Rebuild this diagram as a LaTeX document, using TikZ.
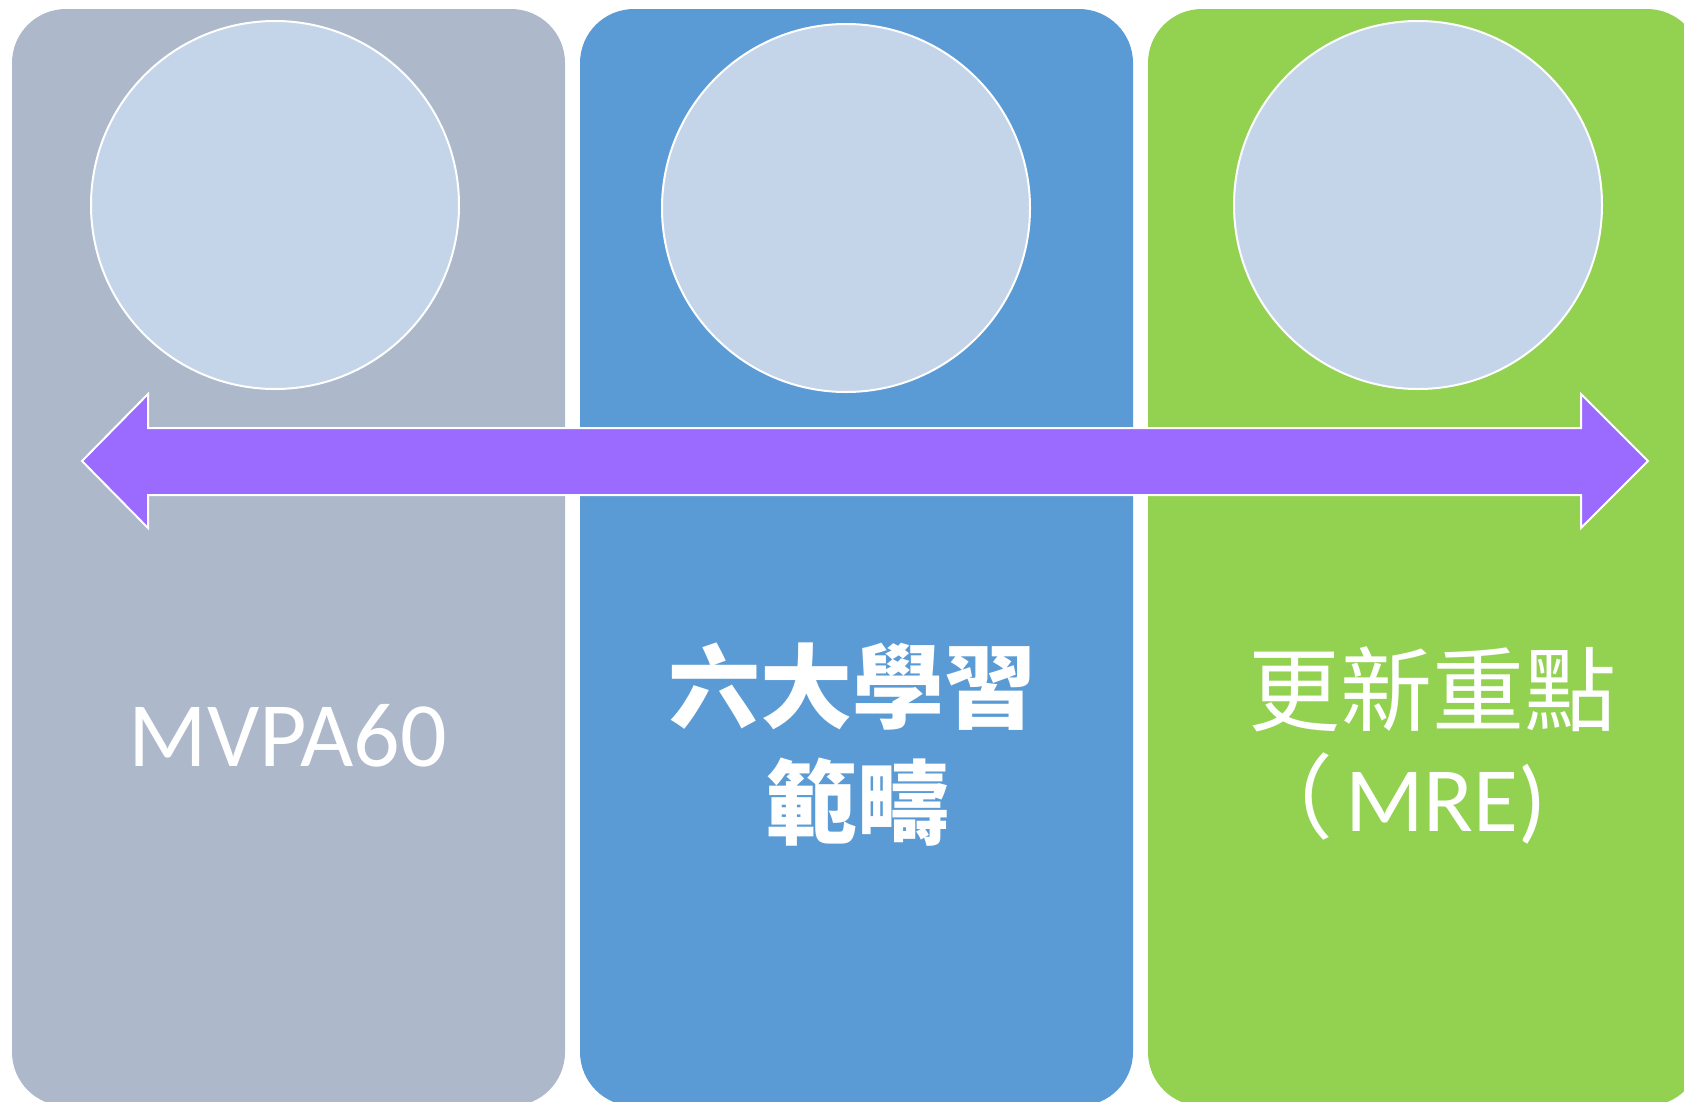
\documentclass[tikz,border=0pt]{standalone}
\usepackage{fontspec}
\setmainfont{Carlito}
\newfontfamily\cjk{Noto Sans CJK TC}
\definecolor{pgrey}{HTML}{ADB8CA}
\definecolor{pblue}{HTML}{5B9BD5}
\definecolor{pgreen}{HTML}{93D151}
\definecolor{pcircle}{HTML}{C4D5EA}
\definecolor{parrow}{HTML}{9B6AFF}
\tikzset{
  panel/.style={rounded corners=54pt},
  disc/.style={fill=pcircle, draw=white, line width=2pt},
  bigarrow/.style={fill=parrow, draw=white, line width=2pt},
  lbl/.style={text=white, inner sep=0pt, anchor=base, font=\fontsize{92}{110}\selectfont},
}
\begin{document}
\begin{tikzpicture}[x=1pt,y=-1pt]
\useasboundingbox (0,0) rectangle (1684,1101);
\fill[white] (0,0) rectangle (1684,1101);
\begin{scope}
\clip (0,0) rectangle (1684,1101);
\fill[pgrey, panel] (12,9) rectangle (565,1106);
\fill[pblue, panel] (580,9) rectangle (1133,1106);
\fill[pgreen, panel] (1148,9) rectangle (1701,1106);
\end{scope}
\node[disc, circle, minimum size=368pt, inner sep=0pt] (c1) at (275,205) {};
\node[disc, circle, minimum size=368pt, inner sep=0pt] (c2) at (846,208) {};
\node[disc, circle, minimum size=368pt, inner sep=0pt] (c3) at (1418,205) {};
\draw[bigarrow] (82,461) -- (148,394) -- (148,428) -- (1581,428) -- (1581,394)
  -- (1648,461) -- (1581,528) -- (1581,495) -- (148,495) -- (148,528) -- cycle;
\node[lbl] (t1) at (288,766) {MVPA60};
\node[lbl] (t2a) at (852,721) {\cjk\bfseries 六大學習};
\node[lbl] (t2b) at (857,837) {\cjk\bfseries 範疇};
\node[lbl] (t3a) at (1432,724) {\cjk 更新重點};
\node[lbl] (t3b) at (1400,831) {\kern-12pt{\cjk （}\kern12pt MRE)};
\end{tikzpicture}
\end{document}
